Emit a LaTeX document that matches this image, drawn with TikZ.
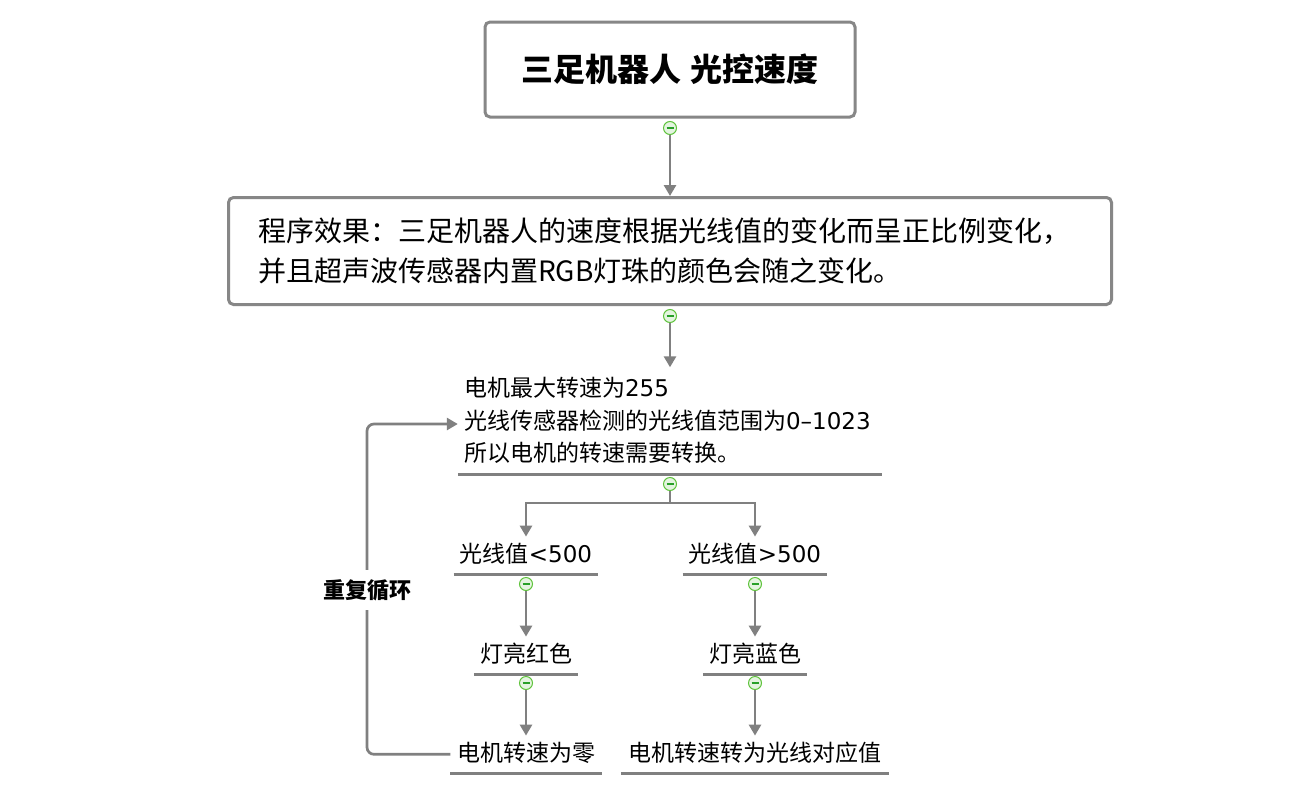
\documentclass[tikz,border=0pt]{standalone}
\usepackage{fontspec}
\setmainfont{Noto Sans CJK SC}
\newfontfamily\lat{DejaVu Sans}
\usetikzlibrary{arrows.meta,calc}
\definecolor{lineg}{RGB}{128,128,128}
\definecolor{boxg}{RGB}{135,135,135}
\definecolor{togB}{RGB}{95,195,60}
\definecolor{togF}{RGB}{228,244,224}
\definecolor{togM}{RGB}{40,160,40}
\begin{document}
\begin{tikzpicture}[x=1pt,y=-1pt,
  box/.style={draw=boxg, line width=3pt, rounded corners=5pt, fill=white},
  ul/.style={inner xsep=6pt, inner ysep=7pt, font=\fontsize{23}{28}\selectfont, text height=18.4pt, text depth=4.6pt, anchor=south},
  uline/.style={draw=lineg, line width=3pt},
  conn/.style={draw=lineg, line width=2.7pt, -{Triangle[length=11pt,width=12pt]}},
  link/.style={draw=lineg, line width=2.7pt},
  tog/.style={circle, draw=togB, fill=togF, line width=1pt, minimum size=13pt, inner sep=0pt,
    path picture={\draw[togM, line width=1.4pt] ([xshift=-3.5pt]path picture bounding box.center) -- ([xshift=3.5pt]path picture bounding box.center);}},
  looplbl/.style={fill=white, font=\bfseries\fontsize{22}{24}\selectfont, inner xsep=2pt, inner ysep=9pt}
]
\useasboundingbox[fill=white] (0,0) rectangle (1304,790);

% boxes
\node[box, minimum width=370pt, minimum height=95pt] (title) at (670,69.5)
  {\bfseries\fontsize{32}{36}\selectfont 三足机器人\kern10pt 光控速度};
\node[box, minimum width=883pt, minimum height=107pt, text width=824pt, align=left,
  font=\fontsize{28}{40}\selectfont] (effect) at (670,251)
  {程序效果：三足机器人的速度根据光线值的变化而呈正比例变化，\\并且超声波传感器内置RGB灯珠的颜色会随之变化。};

% info block
\node[anchor=south, text width=412pt, align=left, inner xsep=6pt, inner ysep=10pt,
  font=\fontsize{23}{32.5}\selectfont] (info) at (670,474)
  {电机最大转速为{\lat 255}\\光线传感器检测的光线值范围为{\lat 0–1023}\\所以电机的转速需要转换。};
\draw[uline] (info.south west) -- (info.south east);

% branch nodes
\node[ul, minimum width=142pt] (lt) at (526,574) {光线值{\lat <500}};
\node[ul, minimum width=142pt] (gt) at (755,574) {光线值{\lat >500}};
\node[ul, minimum width=104pt] (red) at (526,674) {灯亮红色};
\node[ul, minimum width=104pt] (blue) at (755,674) {灯亮蓝色};
\node[ul, minimum width=151pt] (z0) at (526,773) {电机转速为零};
\node[ul, minimum width=268pt] (z1) at (755,773) {电机转速转为光线对应值};
\foreach \n in {lt,gt,red,blue,z0,z1}{\draw[uline] (\n.south west) -- (\n.south east);}

% toggles
\node[tog] (c0) at (670,128) {};
\node[tog] (c1) at (670,316) {};
\node[tog] (c2) at (670,484) {};
\node[tog] (c3) at (526,584) {};
\node[tog] (c4) at (755,584) {};
\node[tog] (c5) at (526,683) {};
\node[tog] (c6) at (755,683) {};

% connectors
\draw[conn] (c0) -- (effect);
\draw[conn] (c1) -- (info);
\coordinate (br) at (670,503);
\draw[link] (c2) -- (br);
\draw[conn] (br) -| (lt);
\draw[conn] (br) -| (gt);
\draw[conn] (c3) -- (red);
\draw[conn] (c4) -- (blue);
\draw[conn] (c5) -- (z0);
\draw[conn] (c6) -- (z1);

% loop
\coordinate (lx) at (367,0);
\coordinate (la) at (0,424);
\draw[conn, rounded corners=7pt] (z0.west) -- (z0.west -| lx) -- (lx |- la) -- (info.west |- la);
\node[looplbl] (lbl) at (367,590) {重复循环};
\end{tikzpicture}
\end{document}
